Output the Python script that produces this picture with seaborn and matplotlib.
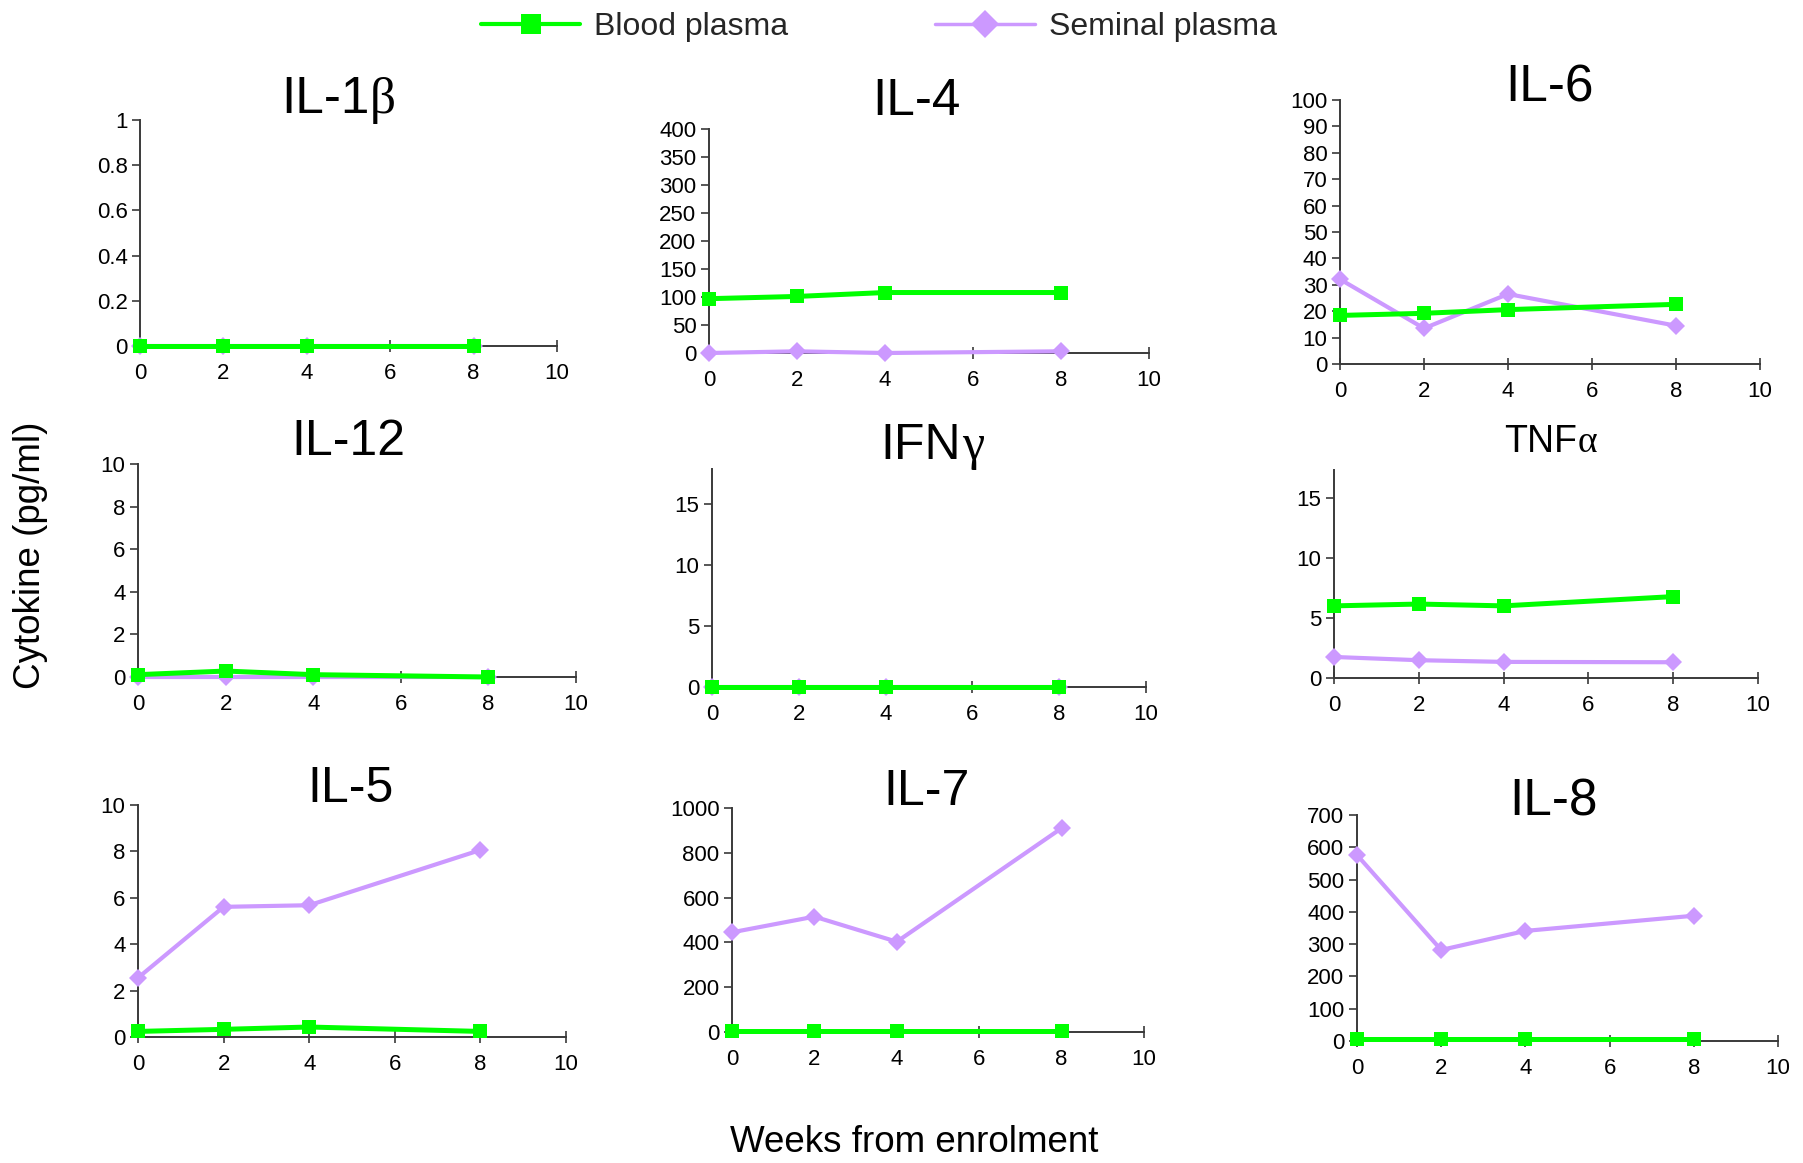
import matplotlib
matplotlib.use("Agg")
import matplotlib.pyplot as plt
import seaborn as sns
import pandas as pd

# ---- data -------------------------------------------------------------
weeks = [0, 2, 4, 8]

# panel names split into a Latin part and an optional Greek suffix
panel_stems = ["IL-1", "IL-4", "IL-6", "IL-12", "IFN", "TNF", "IL-5", "IL-7", "IL-8"]
panel_greek = ["β", "", "", "", "γ", "α", "", "", ""]

blood_il1b = [0, 0, 0, 0]
semen_il1b = [0, 0, 0, 0]
blood_il4 = [97, 101, 108, 108]
semen_il4 = [0, 3, 0, 3]
blood_il6 = [18.4, 19.2, 20.6, 22.6]
semen_il6 = [32.1, 13.5, 26.5, 14.5]
blood_il12 = [0.11, 0.28, 0.11, 0.0]
semen_il12 = [0, 0, 0, 0]
blood_ifng = [0, 0, 0, 0]
semen_ifng = [0, 0, 0, 0]
blood_tnfa = [6.0, 6.15, 6.0, 6.77]
semen_tnfa = [1.75, 1.48, 1.34, 1.31]
blood_il5 = [0.24, 0.33, 0.43, 0.24]
semen_il5 = [2.55, 5.61, 5.68, 8.06]
blood_il7 = [3, 3, 3, 3]
semen_il7 = [445, 515, 403, 910]
blood_il8 = [6, 6, 6, 6]
semen_il8 = [576, 282, 341, 388]

blood = [blood_il1b, blood_il4, blood_il6, blood_il12, blood_ifng,
         blood_tnfa, blood_il5, blood_il7, blood_il8]
semen = [semen_il1b, semen_il4, semen_il6, semen_il12, semen_ifng,
         semen_tnfa, semen_il5, semen_il7, semen_il8]

yticks = [
    [0, 0.2, 0.4, 0.6, 0.8, 1],
    list(range(0, 401, 50)),
    list(range(0, 101, 10)),
    list(range(0, 11, 2)),
    [0, 5, 10, 15],
    [0, 5, 10, 15],
    list(range(0, 11, 2)),
    list(range(0, 1001, 200)),
    list(range(0, 701, 100)),
]
ytick_labels = [
    ["0", "0.2", "0.4", "0.6", "0.8", "1"],
    None, None, None, None, None, None, None, None,
]
ytops = [1, 400, 100, 10, 17.9, 17.3, 10, 1000, 700]
xticks = [0, 2, 4, 6, 8, 10]

series_names = ["Blood plasma", "Seminal plasma"]

# ---- styling ----------------------------------------------------------
GREEN = "#00FF00"
PURPLE = "#CC99FF"
AXIS = "#3a3a3a"

sns.set_style("white")
plt.rcParams["font.family"] = ["Liberation Sans", "DejaVu Sans"]

W, H = 1803, 1163
fig = plt.figure(figsize=(W / 100, H / 100), dpi=100)
renderer = fig.canvas.get_renderer()

# axes frames in pixel coordinates: left, right, top, bottom
frames = [
    (140, 557, 120, 346),
    (709, 1149, 129, 353),
    (1340, 1760, 100, 364),
    (138, 576, 464, 677),
    (712, 1146, 469, 687),
    (1334, 1758, 470, 678),
    (138, 566, 805, 1037),
    (732, 1144, 808, 1032),
    (1357, 1778, 815, 1041),
]
# title centre x and baseline y, in pixels
title_pos = [
    (338, 113), (916, 115), (1549, 102),
    (348, 455), (932, 459), (1550, 452),
    (351, 802), (927, 805), (1553, 815),
]
title_size = [37, 37, 37, 36, 36, 27, 36, 36, 37]


def draw_title(stem, greek, cx, by, size):
    """Latin stem in sans-serif, Greek suffix in a serif face, centred on cx."""
    t1 = fig.text(0, 1 - by / H, stem, ha="left", va="baseline",
                  fontsize=size, color="black")
    w1 = t1.get_window_extent(renderer).width
    w2 = 0
    t2 = None
    if greek:
        t2 = fig.text(0, 1 - by / H, greek, ha="left", va="baseline",
                      fontsize=size, color="black",
                      family=["Liberation Serif", "DejaVu Serif"])
        w2 = t2.get_window_extent(renderer).width
    x0 = cx - (w1 + w2) / 2
    t1.set_x(x0 / W)
    if t2 is not None:
        t2.set_x((x0 + w1 + 1) / W)


for i in range(len(panel_stems)):
    l, r, t, b = frames[i]
    ax = fig.add_axes([l / W, 1 - b / H, (r - l) / W, (b - t) / H])
    df = pd.DataFrame({"week": weeks, "blood": blood[i], "semen": semen[i]})

    sns.lineplot(data=df, x="week", y="semen", ax=ax, color=PURPLE,
                 linewidth=3.0, marker="D", markersize=9.5,
                 markeredgecolor=PURPLE, markeredgewidth=0,
                 clip_on=False, zorder=3)
    sns.lineplot(data=df, x="week", y="blood", ax=ax, color=GREEN,
                 linewidth=3.6, marker="s", markersize=9.5,
                 markeredgecolor=GREEN, markeredgewidth=0,
                 clip_on=False, zorder=4)

    ax.set_xlim(0, 10)
    ax.set_ylim(0, ytops[i])
    ax.set_xticks(xticks)
    ax.set_yticks(yticks[i])
    if ytick_labels[i] is not None:
        ax.set_yticklabels(ytick_labels[i])
    ax.set_xlabel("")
    ax.set_ylabel("")
    for side in ("top", "right"):
        ax.spines[side].set_visible(False)
    for side in ("left", "bottom"):
        ax.spines[side].set_color(AXIS)
        ax.spines[side].set_linewidth(1.4)
    ax.tick_params(axis="x", direction="inout", length=9, width=1.2,
                   color=AXIS, labelcolor="black", labelsize=16, pad=8,
                   bottom=True)
    ax.tick_params(axis="y", direction="out", length=6, width=1.2,
                   color=AXIS, labelcolor="black", labelsize=16, pad=3,
                   left=True)
    ax.set_facecolor("none")

    tx, ty = title_pos[i]
    draw_title(panel_stems[i], panel_greek[i], tx, ty, title_size[i])

# shared legend at top
handles = [
    plt.Line2D([], [], color=GREEN, linewidth=3.0, marker="s",
               markersize=15, markeredgewidth=0),
    plt.Line2D([], [], color=PURPLE, linewidth=2.5, marker="D",
               markersize=14, markeredgewidth=0),
]
fig.legend(handles, series_names, loc="center left",
           bbox_to_anchor=(481 / W, 1 - 27 / H), ncol=2, frameon=False,
           fontsize=23, handlelength=3.1, handletextpad=0.45,
           columnspacing=4.6, borderpad=0, borderaxespad=0)

fig.text(31 / W, 1 - 555 / H, "Cytokine (pg/ml)", rotation=90,
         ha="center", va="center", fontsize=26.5, color="black")
fig.text(914 / W, 1 - 1143 / H, "Weeks from enrolment",
         ha="center", va="center", fontsize=26.5, color="black")

fig.savefig("out.png", dpi=100, facecolor="white")
